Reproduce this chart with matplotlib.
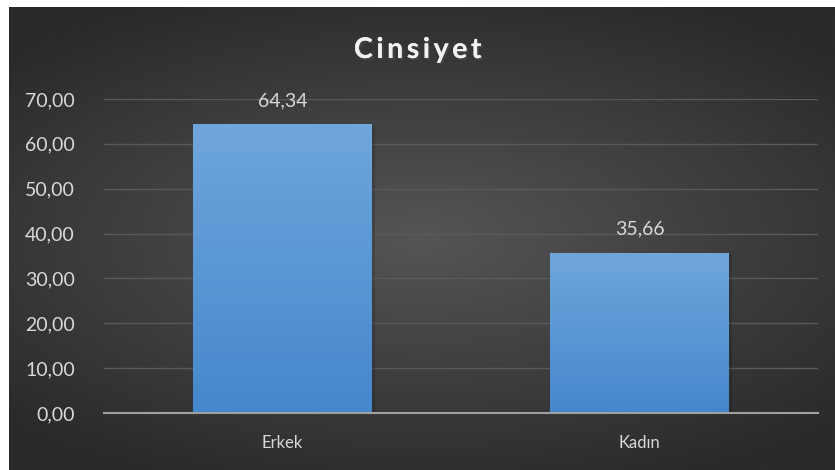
import numpy as np
import matplotlib.pyplot as plt
from matplotlib.colors import LinearSegmentedColormap
from matplotlib import patheffects

categories = ["Erkek", "Kadın"]
values = [64.34, 35.66]
title = "Cinsiyet"

plt.rcParams['font.family'] = ['Lato', 'DejaVu Sans']

fig = plt.figure(figsize=(8.35, 4.70), dpi=100)
fig.patch.set_facecolor("white")

# dark radial background (chart area sits a few px inside the white canvas)
bg = fig.add_axes([9 / 835, 0, 1 - 9 / 835, 1 - 7 / 470])
bg.set_axis_off()
yy, xx = np.mgrid[-1:1:300j, -1:1:500j]
r = np.sqrt((xx * 0.9) ** 2 + (yy * 1.1) ** 2)
bg_cmap = LinearSegmentedColormap.from_list("bg", ["#555555", "#2a2a2a"])
bg.imshow(np.clip(r, 0, 1.25), cmap=bg_cmap, aspect="auto", extent=[0, 1, 0, 1])
bg.set_xlim(0, 1)
bg.set_ylim(0, 1)

ax = fig.add_axes([104 / 835, (470 - 413) / 470, (818 - 104) / 835, (413 - 99) / 470])
ax.patch.set_alpha(0)
ax.set_ylim(0, 70)
ax.set_xlim(-0.5, 1.5)

x = np.arange(len(categories))
bars = ax.bar(x, values, width=0.5, color="none", zorder=3)

grad = np.linspace(0, 1, 256).reshape(-1, 1)
bar_cmap = LinearSegmentedColormap.from_list("bar", ["#4587cc", "#6fa6dc"])
for b in bars:
    x0, w, h = b.get_x(), b.get_width(), b.get_height()
    # soft shadow
    ax.bar(x0 + w / 2 + 0.008, h, width=w, bottom=-0.3, color="black", alpha=0.15, zorder=2)
    im = ax.imshow(grad, cmap=bar_cmap, origin="lower", aspect="auto",
                   extent=[x0, x0 + w, 0, h], zorder=3)
    im.set_clip_path(b)

for xi, v in zip(x, values):
    ax.text(xi, v + 3.4, f"{v:.2f}".replace(".", ","), ha="center", va="bottom",
            color="#d9d9d9", fontsize=14)

ax.set_yticks(np.arange(0, 71, 10))
ax.set_yticklabels([f"{t:.2f}".replace(".", ",") for t in np.arange(0, 71, 10)])
ax.set_xticks(x)
ax.set_xticklabels(categories)
ax.tick_params(axis="y", colors="#d9d9d9", labelsize=14, length=0, pad=21)
ax.tick_params(axis="x", colors="#d9d9d9", labelsize=12, length=0, pad=16)
ax.grid(axis="y", color="#5a5a5a", linewidth=1, zorder=1)
for s in ["top", "right", "left"]:
    ax.spines[s].set_visible(False)
ax.spines["bottom"].set_color("#a0a0a0")
ax.spines["bottom"].set_linewidth(1.5)
ax.spines["bottom"].set_zorder(4)

# spaced-out title like the reference
fig.text(418 / 835, 1 - 50 / 470, "\u2009".join(title), ha="center", va="center",
         color="#f2f2f2", fontsize=20.5, fontweight="bold",
         path_effects=[patheffects.withSimplePatchShadow(offset=(1.5, -1.5), alpha=0.6),
                       patheffects.Normal()])

fig.savefig("out.png", dpi=100)
